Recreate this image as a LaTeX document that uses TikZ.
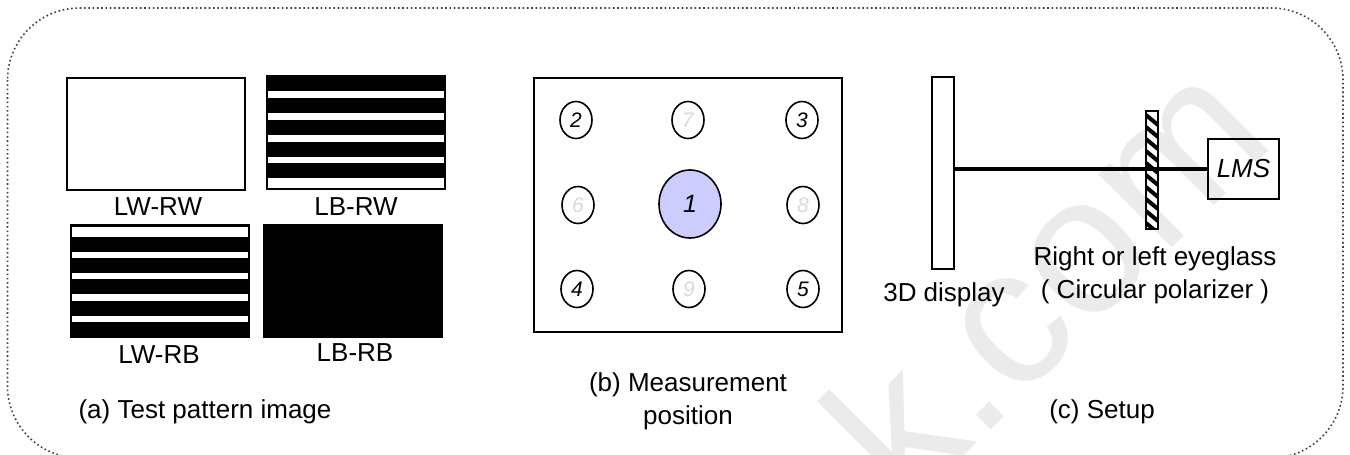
\documentclass[tikz,border=0pt]{standalone}
\usepackage{fontspec}
\setmainfont{Liberation Sans}
\usepackage{tikz}
\usetikzlibrary{positioning, shapes.geometric}
\definecolor{spotblue}{HTML}{CCCCFF}
\tikzset{
  patbox/.style={draw, line width=1pt, minimum width=89pt, minimum height=56pt, inner sep=0pt},
  blackbox/.style={patbox, fill=black},
  stripe/.style={fill=white, draw=none, minimum width=88pt, inner sep=0pt},
  spot/.style={draw, line width=0.8pt, ellipse, minimum width=16pt, minimum height=18.5pt, inner sep=0pt, font=\fontsize{10.5}{12}\selectfont\itshape},
  faint/.style={spot, text=black!15},
  lbl/.style={inner sep=0pt, align=center, font=\fontsize{13}{16.5}\selectfont},
}
\begin{document}
\begin{tikzpicture}[x=0.5pt, y=-0.5pt]
  \useasboundingbox (0,0) rectangle (1350,455);
  % watermark
  \node[rotate=45, text=black!8, font=\fontsize{98}{98}\selectfont] (mark) at (1044,277) {k.com};
  % frame
  \draw[black!75, line width=0.8pt, dash pattern=on 0.8pt off 1.35pt, rounded corners=36pt] (7.5,8) rectangle (1343,458);

  % (a) test patterns
  \node[patbox] (lwrw) at (155.5,133.5) {};
  \node[blackbox, minimum height=56.5pt] (lbrw) at (356,132.5) {};
  \node[blackbox] (lwrb) at (159.5,280.5) {};
  \node[blackbox] (lbrb) at (352.5,280.5) {};
  \foreach \ya/\h in {94.5/3.5, 116.5/3.5, 138.5/3.5, 160/3, 183/5} {
    \node[stripe, minimum height=\h pt] at (356,\ya) {};
  }
  \foreach \ya/\h in {232/5, 255/3, 276/3, 297.5/3.5, 319/3} {
    \node[stripe, minimum height=\h pt] at (159.5,\ya) {};
  }
  \node[lbl] (lwrwlbl) at (158,207) {LW-RW};
  \node[lbl] (lbrwlbl) at (356,207) {LB-RW};
  \node[lbl] (lwrblbl) at (159,355) {LW-RB};
  \node[lbl] (lbrblbl) at (355,353) {LB-RB};
  \node[lbl] (capa) at (205,412) {(a) Test pattern image};

  % (b) measurement position
  \node[draw, line width=1pt, minimum width=154pt, minimum height=127pt, inner sep=0pt] (panel) at (688,205) {};
  \node[draw, line width=0.8pt, ellipse, fill=spotblue, minimum width=31pt, minimum height=34pt, inner sep=0pt, font=\fontsize{12.5}{14}\selectfont\itshape] (p1) at (690,204) {1};
  \node[spot] (p2) at (576,120) {2};
  \node[spot] (p3) at (802,120) {3};
  \node[spot] (p4) at (577,289) {4};
  \node[spot] (p5) at (803,289) {5};
  \node[faint] (p6) at (578,205) {6};
  \node[faint] (p7) at (688,120) {7};
  \node[faint] (p8) at (803,205) {8};
  \node[faint] (p9) at (689,289) {9};
  \node[lbl] (capb) at (688,401) {(b) Measurement\\position};

  % (c) setup
  \node[draw, line width=0.8pt, minimum width=11pt, minimum height=96pt, inner sep=0pt] (display) at (943,173) {};
  \node[draw, line width=0.8pt, minimum width=35.5pt, minimum height=30pt, inner sep=0pt, font=\fontsize{13}{15}\selectfont\itshape] (lms) at (1243.5,169) {LMS};
  \node[draw, line width=1pt, fill=white, minimum width=6pt, minimum height=59pt, inner sep=0pt,
    path picture={\foreach \i in {-5,...,5} {
      \draw[line width=2pt] ([yshift=\i*6pt-2.5pt]path picture bounding box.west) -- ++(6pt,-5pt);
    }}] (glass) at (1152,170) {};
  \draw[line width=1.6pt] (display.east |- lms) -- (lms.west);
  \node[lbl] (displbl) at (944,295) {3D display};
  \node[lbl] (glasslbl) at (1155,275) {Right or left eyeglass\\( Circular polarizer )};
  \node[lbl] (capc) at (1102,412) {(c) Setup};
\end{tikzpicture}
\end{document}
